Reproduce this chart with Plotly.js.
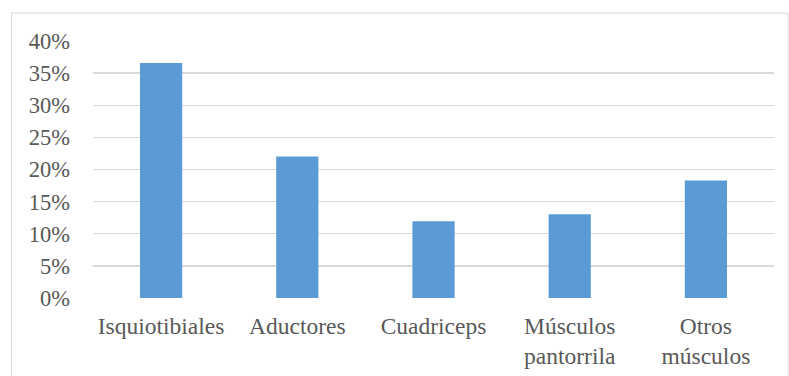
<!DOCTYPE html>
<html>
<head>
<meta charset="utf-8">
<script src="https://cdn.plot.ly/plotly-3.0.1.min.js"></script>
<style>body{margin:0;background:#fff}#chart{width:789px;height:376px}</style>
</head>
<body>
<div id="chart"></div>
<script>
const categories = ["Isquiotibiales", "Aductores", "Cuadriceps", "Músculos<br>pantorrila", "Otros<br>músculos"];
const values = [0.3657, 0.2203, 0.1195, 0.1304, 0.1829];
const yTickValues = [0, 0.05, 0.10, 0.15, 0.20, 0.25, 0.30, 0.35, 0.40];
const yTickLabels = ["0%", "5%", "10%", "15%", "20%", "25%", "30%", "35%", "40%"];

const fontFamily = '"Liberation Serif", "Times New Roman", serif';
Plotly.newPlot('chart', [{
  type: 'bar',
  x: categories,
  y: values,
  marker: {color: '#5B9BD5', line: {width: 0}},
  hoverinfo: 'none'
}], {
  width: 789, height: 376,
  margin: {l: 93, r: 15, t: 41, b: 78},
  paper_bgcolor: '#fff', plot_bgcolor: '#fff',
  bargap: 0.69,
  showlegend: false,
  font: {family: fontFamily, size: 22, color: '#595959'},
  xaxis: {
    showgrid: false, zeroline: false, showline: false, ticks: '',
    ticklabelstandoff: 11,
    tickfont: {family: fontFamily, size: 23.5, color: '#595959'}
  },
  yaxis: {
    range: [0, 0.40], tickvals: yTickValues, ticktext: yTickLabels,
    showgrid: true, gridcolor: '#d9d9d9', gridwidth: 1.3,
    zeroline: false, showline: false, ticks: '',
    ticklabelstandoff: 22,
    tickfont: {family: fontFamily, size: 22.5, color: '#595959'}
  },
  shapes: [{
    type: 'rect', xref: 'paper', yref: 'paper',
    x0: (11.5 - 93) / 681, x1: (788 - 93) / 681,
    y0: (297 - 400) / 257, y1: (297 - 12) / 257,
    line: {color: '#d9d9d9', width: 1}, fillcolor: 'rgba(0,0,0,0)', layer: 'below'
  }]
}, {displayModeBar: false, staticPlot: true});
</script>
</body>
</html>
